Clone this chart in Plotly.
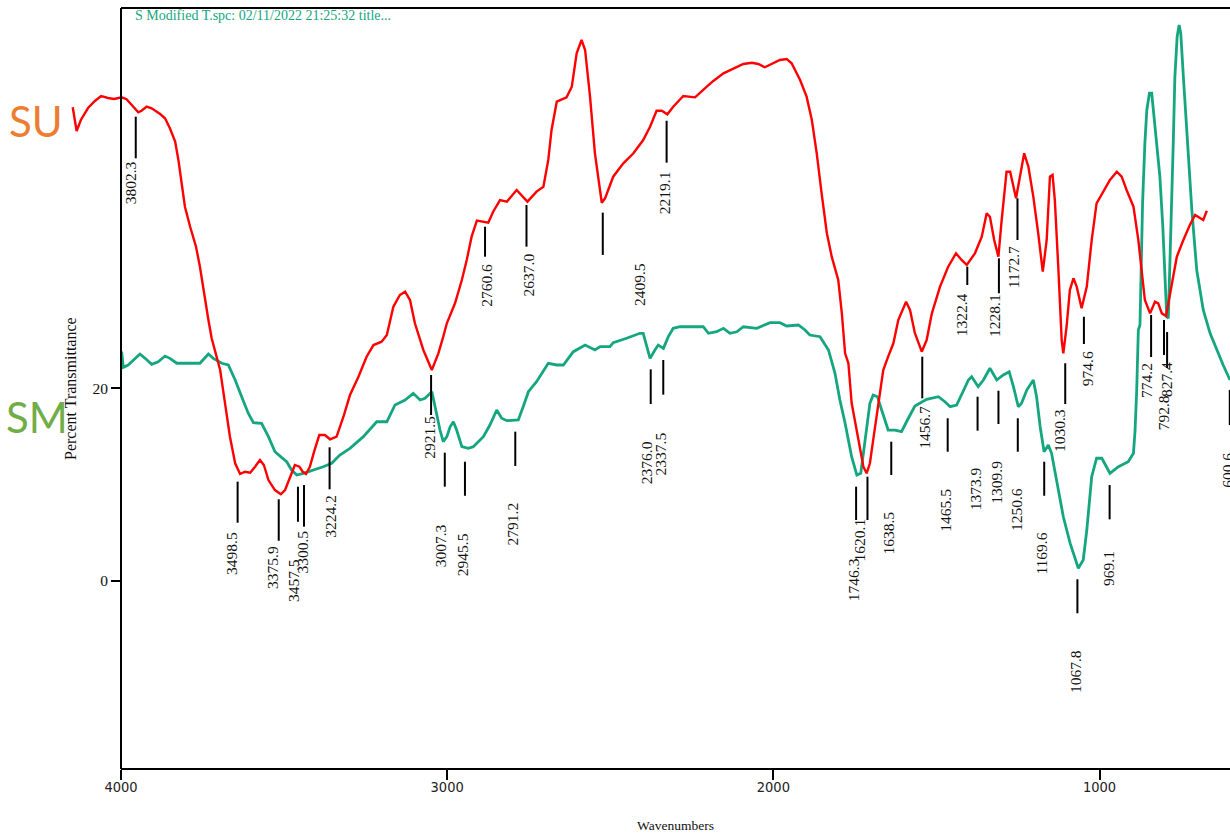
import plotly.graph_objects as go

# ---- SM spectrum (main wavenumber scale) ----
sm_wavenumber = [3998, 3993, 3978, 3962, 3942, 3926, 3906, 3886, 3865, 3850, 3829, 3758, 3732, 3717, 3691, 3671,
                 3650, 3630, 3610, 3594, 3569, 3548, 3528, 3507, 3492, 3477, 3461, 3441, 3410, 3380, 3354, 3329,
                 3298, 3257, 3216, 3185, 3160, 3129, 3104, 3083, 3068, 3047, 3037, 3022, 3012, 3001, 2991, 2981,
                 2971, 2955, 2935, 2920, 2889, 2869, 2848, 2833, 2817, 2782, 2767, 2751, 2726, 2690, 2664, 2644,
                 2613, 2577, 2547, 2531, 2501, 2491, 2450, 2409, 2399, 2378, 2363, 2353, 2337, 2322, 2307, 2286,
                 2215, 2199, 2174, 2153, 2133, 2112, 2092, 2051, 2010, 1980, 1959, 1923, 1903, 1888, 1857, 1831,
                 1811, 1796, 1780, 1760, 1744, 1732, 1724, 1714, 1704, 1694, 1681, 1668, 1648, 1627, 1607, 1589,
                 1566, 1530, 1494, 1474, 1458, 1438, 1423, 1402, 1392, 1372, 1356, 1336, 1315, 1295, 1277, 1264,
                 1249, 1239, 1223, 1203, 1193, 1182, 1170, 1157, 1147, 1131, 1111, 1090, 1065, 1050, 1039, 1024,
                 1009, 993, 968, 942, 912, 896, 891, 886, 881, 876, 868, 861, 855, 847, 840, 835, 825, 815, 806,
                 799, 794, 789, 782, 774, 769, 762, 756, 751, 743, 731, 717, 702, 682, 661, 641, 621, 600]
sm_transmittance = [23.80, 22.18, 22.42, 22.94, 23.56, 23.11, 22.49, 22.76, 23.35, 23.11, 22.60, 22.60, 23.56,
                    23.11, 22.60, 22.42, 20.86, 19.13, 17.41, 16.43, 16.37, 14.98, 13.42, 12.80, 12.38, 11.52,
                    11.00, 11.18, 11.52, 11.86, 12.22, 13.08, 13.77, 14.98, 16.53, 16.53, 18.27, 18.79, 19.48,
                    18.79, 18.96, 19.65, 18.09, 15.67, 14.46, 14.98, 16.01, 16.53, 15.67, 13.94, 13.77, 13.94,
                    14.98, 16.19, 17.75, 16.89, 16.64, 16.71, 18.09, 19.65, 20.69, 22.60, 22.42, 22.42, 23.80,
                    24.49, 23.98, 24.32, 24.32, 24.73, 25.19, 25.71, 25.71, 23.11, 23.98, 24.49, 24.15, 25.36,
                    26.23, 26.39, 26.39, 25.71, 25.87, 26.23, 25.71, 25.87, 26.39, 26.23, 26.81, 26.81, 26.47,
                    26.57, 26.05, 25.53, 25.36, 23.98, 21.56, 18.79, 16.37, 12.90, 11.00, 11.18, 13.25, 16.01,
                    18.44, 19.30, 19.13, 17.75, 15.67, 15.67, 15.50, 16.71, 18.16, 18.86, 19.13, 18.61, 18.09,
                    18.27, 19.30, 20.86, 21.20, 20.17, 20.86, 22.08, 20.86, 21.38, 21.72, 20.17, 18.09, 18.44,
                    19.82, 20.86, 19.13, 16.01, 13.42, 14.12, 13.25, 10.48, 6.67, 3.91, 1.32, 2.18, 5.29, 10.83,
                    12.74, 12.74, 11.18, 11.86, 12.38, 13.25, 15.67, 19.82, 26.05, 26.57, 39.20, 45.43, 48.89,
                    50.62, 50.62, 48.89, 45.43, 41.96, 36.77, 31.58, 27.43, 27.27, 35.05, 45.43, 52.34, 56.49,
                    57.71, 56.85, 52.34, 45.43, 38.51, 32.28, 28.13, 25.71, 23.98, 22.42, 20.86]

# ---- SU spectrum (own wavenumber calibration) ----
su_wavenumber = [3990.3, 3978.6, 3966.0, 3944.6, 3924.1, 3905.6, 3885.2, 3866.7, 3844.4, 3829.8,
                 3814.2, 3794.7, 3785.0, 3769.5, 3754.9, 3729.6, 3715.0, 3700.4, 3684.8, 3675.1,
                 3665.4, 3655.6, 3640.1, 3622.6, 3610.9, 3599.2, 3585.6, 3575.9, 3550.6, 3536.0,
                 3521.4, 3505.8, 3491.2, 3476.7, 3461.1, 3446.5, 3431.9, 3420.2, 3406.6, 3387.2,
                 3369.6, 3357.0, 3342.4, 3327.8, 3314.2, 3304.5, 3294.7, 3283.1, 3270.4, 3254.9,
                 3238.3, 3222.8, 3203.3, 3182.9, 3163.4, 3138.1, 3113.8, 3093.4, 3069.1, 3053.5,
                 3034.0, 3014.6, 2999.0, 2984.4, 2969.8, 2944.6, 2919.3, 2899.8, 2885.2, 2874.5,
                 2850.2, 2829.8, 2815.2, 2800.6, 2785.0, 2765.6, 2751.0, 2736.4, 2716.0, 2695.5,
                 2666.3, 2634.2, 2607.0, 2586.6, 2572.0, 2562.3, 2546.7, 2517.5, 2501.9, 2487.4,
                 2472.8, 2462.1, 2447.5, 2432.9, 2412.5, 2402.7, 2378.4, 2348.2, 2318.1, 2288.9,
                 2268.5, 2249.0, 2233.5, 2216.9, 2199.4, 2169.3, 2134.2, 2099.2, 2079.8, 2049.6,
                 2020.4, 1990.3, 1965.0, 1945.5, 1926.1, 1900.8, 1881.3, 1860.9, 1846.3, 1821.0,
                 1801.6, 1786.0, 1771.4, 1756.8, 1741.2, 1726.7, 1707.2, 1696.5, 1686.8, 1677.0,
                 1667.3, 1646.9, 1632.3, 1622.6, 1612.8, 1603.1, 1587.5, 1573.0, 1558.4, 1542.8,
                 1528.2, 1504.9, 1493.2, 1478.6, 1458.2, 1443.6, 1428.0, 1403.7, 1379.4, 1356.0,
                 1339.5, 1323.9, 1299.6, 1279.2, 1264.6, 1254.9, 1242.2, 1229.6, 1219.8, 1205.3,
                 1194.6, 1177.0, 1165.4, 1152.7, 1140.1, 1125.5, 1110.9, 1097.3, 1085.6, 1075.9,
                 1068.1, 1061.3, 1050.6, 1040.9, 1036.0, 1026.3, 1016.5, 1005.8, 996.1, 981.5,
                 966.0, 951.4, 936.8, 916.3, 896.9, 876.5, 861.9, 847.3, 826.8, 812.3,
                 802.5, 792.8, 777.2, 762.6, 752.9, 742.2, 729.6, 717.9, 697.5, 678.0,
                 658.6, 643.0, 628.4, 618.7, 608.0]
su_transmittance = [49.17, 46.70, 47.85, 49.09, 49.82, 50.34, 50.13, 50.03, 50.20, 50.00,
                    49.40, 48.65, 48.81, 49.23, 49.06, 48.47, 48.02, 46.99, 45.60, 43.70,
                    41.28, 38.85, 36.77, 34.70, 32.62, 29.86, 27.09, 25.19, 21.90, 18.44,
                    14.98, 12.22, 11.11, 11.34, 11.24, 11.86, 12.56, 12.04, 10.48, 9.44,
                    9.00, 9.44, 10.83, 12.04, 11.86, 11.34, 11.11, 11.86, 13.42, 15.15,
                    15.15, 14.71, 14.98, 17.05, 19.30, 21.20, 23.28, 24.49, 24.84, 25.53,
                    28.47, 29.68, 30.03, 29.16, 26.75, 23.98, 21.90, 23.63, 25.36, 26.75,
                    28.82, 31.24, 33.32, 35.74, 37.40, 37.29, 37.19, 38.33, 39.54, 39.37,
                    40.58, 39.37, 40.41, 40.92, 43.70, 46.81, 49.75, 50.20, 51.30, 54.77,
                    56.15, 55.11, 50.27, 44.39, 39.26, 39.72, 41.96, 43.35, 44.39, 45.77,
                    47.15, 48.81, 48.81, 48.44, 49.23, 50.34, 50.20, 51.30, 51.90, 52.69,
                    53.21, 53.66, 53.79, 53.66, 53.32, 53.73, 54.07, 54.18, 53.73, 52.00,
                    50.27, 47.85, 44.39, 40.24, 36.09, 33.66, 31.24, 27.78, 23.63, 22.60,
                    18.47, 14.63, 11.86, 11.18, 12.22, 14.63, 18.44, 21.90, 23.28, 24.67,
                    27.09, 28.99, 28.13, 25.71, 23.80, 25.01, 27.78, 30.55, 32.62, 34.01,
                    33.32, 32.80, 34.01, 35.74, 38.16, 37.81, 35.39, 33.66, 37.47, 42.48,
                    42.48, 39.72, 41.96, 44.39, 43.00, 39.89, 36.09, 32.10, 35.39, 41.96,
                    42.14, 39.54, 32.28, 25.01, 23.63, 26.39, 30.20, 31.42, 30.55, 28.30,
                    30.55, 35.39, 39.20, 40.41, 41.62, 42.48, 41.96, 40.58, 38.85, 35.39,
                    31.94, 29.16, 27.78, 28.99, 28.82, 27.78, 27.50, 29.86, 33.66, 35.39,
                    36.95, 37.99, 37.64, 37.47, 38.43]

# SU wavenumbers sit on the SM axis at SU_GAIN * wavenumber + SU_SHIFT
SU_GAIN = 1.028
SU_SHIFT = 46.0

# ---- peak picks ----
su_peak_labels = ["3802.3", "3498.5", "3375.9", "3300.5", "3224.2", "2921.5", "2760.6", "2637.0", "2409.5",
                  "2219.1", "1620.1", "1456.7", "1322.4", "1228.1", "1172.7", "1030.3", "974.6", "774.2", "827.4"]
su_peak_at = [3802.3, 3498.5, 3375.9, 3300.5, 3224.2, 2921.5, 2760.6, 2637.0, 2409.5,
              2219.1, 1620.1, 1456.7, 1322.4, 1228.1, 1172.7, 1030.3, 974.6, 774.2, 735.7]
su_tick_top = [48.19, 10.31, 8.48, 9.96, 13.88, 21.38, 36.77, 39.03, 38.23,
               47.77, 10.83, 23.28, 32.62, 33.49, 39.72, 22.60, 27.43, 27.61, 27.09]
su_tick_bottom = [43.87, 6.05, 4.18, 5.64, 9.52, 17.23, 33.66, 34.70, 33.84,
                  43.42, 6.33, 18.96, 30.72, 29.86, 35.39, 18.37, 24.60, 23.25, 23.46]
su_label_mid = [41.36, 2.87, 1.43, 2.96, 6.73, 14.87, 30.64, 31.76, 30.79,
                40.32, 4.26, 15.93, 27.61, 27.61, 32.62, 15.59, 22.08, 20.78, 20.86]
su_label_dx = [-5, -6, -6, -2, 1, -1, 2, 2, 37, -2, -8, 2, -5, -4, -4, -5, 3, -4, 2]

sm_peak_labels = ["3457.5", "3007.3", "2945.5", "2791.2", "2376.0", "2337.5", "1746.3", "1638.5", "1465.5",
                  "1373.9", "1309.9", "1250.6", "1169.6", "1067.8", "969.1", "792.8", "600.6"]
sm_peak_at = [3457.5, 3007.3, 2945.5, 2791.2, 2376.0, 2337.5, 1746.3, 1638.5, 1465.5,
              1373.9, 1309.9, 1250.6, 1169.6, 1067.8, 969.1, 792.8, 600.6]
sm_tick_top = [9.79, 13.32, 12.38, 15.50, 21.97, 22.94, 9.79, 14.46, 16.89,
               19.13, 19.75, 16.89, 12.38, 0.18, 9.96, 25.84, 19.82]
sm_tick_bottom = [6.15, 9.79, 8.85, 11.94, 18.37, 19.34, 6.33, 11.00, 13.42,
                  15.60, 16.29, 13.42, 8.85, -3.35, 6.40, 22.11, 16.19]
sm_label_mid = [0.10, 3.68, 2.78, 5.90, 12.30, 13.16, 0.10, 4.95, 7.37,
                9.57, 10.25, 7.45, 2.87, -9.41, 1.32, 17.41, 11.52]
sm_label_dx = [-5, -4, -3, -3, -4, -3, -3, -3, -3, -2, -2, -2, -3, -2, -1, -4, -3]

x_ticks = [4000, 3000, 2000, 1000]
y_ticks = [0, 20]

X_RANGE = [4187, 600]
Y_RANGE = [-19.51, 59.47]

W, H = 1230, 837
M_L, M_R, M_T, M_B = 60, 0, 8, 68

RED = "#ff0000"
TEAL = "#15a680"
SERIF = "Liberation Serif, Times New Roman, serif"
NARROW = "Liberation Sans Narrow, DejaVu Sans Condensed, Arial Narrow, Liberation Sans, sans-serif"
OFFICE = "Lato, Carlito, Calibri, Noto Sans, sans-serif"


def px_x(px):
    return (px - M_L) / (W - M_L - M_R)


def px_y(py):
    return (H - M_B - py) / (H - M_T - M_B)


axis_pos = (X_RANGE[0] - x_ticks[0]) / (X_RANGE[0] - X_RANGE[1])
su_range = [(X_RANGE[0] - SU_SHIFT) / SU_GAIN, (X_RANGE[1] - SU_SHIFT) / SU_GAIN]

fig = go.Figure()
fig.add_trace(go.Scatter(x=sm_wavenumber, y=sm_transmittance, mode="lines", name="SM",
                         line=dict(color=TEAL, width=2.8), xaxis="x", yaxis="y"))
fig.add_trace(go.Scatter(x=su_wavenumber, y=su_transmittance, mode="lines", name="SU",
                         line=dict(color=RED, width=2.4), xaxis="x2", yaxis="y"))

shapes = [
    dict(type="line", xref="x", yref="paper", x0=x_ticks[0], x1=X_RANGE[1], y0=1, y1=1,
         line=dict(color="black", width=2)),
    dict(type="line", xref="x", yref="paper", x0=x_ticks[0], x1=X_RANGE[1], y0=0, y1=0,
         line=dict(color="black", width=2)),
]
annotations = []


def add_peaks(labels, at, top, bottom, mid, dx, xref):
    for lab, x, y0, y1, ym, sh in zip(labels, at, top, bottom, mid, dx):
        shapes.append(dict(type="line", xref=xref, yref="y", x0=x, x1=x, y0=y0, y1=y1,
                           line=dict(color="black", width=2)))
        annotations.append(dict(text=lab, xref=xref, yref="y", x=x, y=ym, xshift=sh,
                                xanchor="center", yanchor="middle",
                                textangle=-90, showarrow=False,
                                font=dict(family=SERIF, size=15.5, color="#111111")))


add_peaks(su_peak_labels, su_peak_at, su_tick_top, su_tick_bottom, su_label_mid, su_label_dx, "x2")
add_peaks(sm_peak_labels, sm_peak_at, sm_tick_top, sm_tick_bottom, sm_label_mid, sm_label_dx, "x")


def paper_text(text, px, py, font, anchor="center", angle=0):
    return dict(text=text, xref="paper", yref="paper", x=px_x(px), y=px_y(py),
                xanchor=anchor, yanchor="middle", textangle=angle, showarrow=False, font=font)


annotations += [
    paper_text("S Modified T.spc: 02/11/2022 21:25:32 title...", 133, 16,
               dict(family=SERIF, size=14, color=TEAL), anchor="left"),
    paper_text("SU", 36, 121, dict(family=OFFICE, size=42, color="#ed7d31")),
    paper_text("SM", 37, 417, dict(family=OFFICE, size=42, color="#70ad47")),
    paper_text("Percent Transmittance", 70.5, 388.5, dict(family=SERIF, size=16, color="#111111"), angle=-90),
    paper_text("Wavenumbers", 675, 826, dict(family=SERIF, size=13.5, color="#111111")),
]

fig.update_layout(
    width=W, height=H, autosize=False,
    margin=dict(l=M_L, r=M_R, t=M_T, b=M_B, pad=0),
    paper_bgcolor="white", plot_bgcolor="white",
    showlegend=False,
    xaxis=dict(range=X_RANGE, tickvals=x_ticks, ticks="outside", ticklen=10, tickwidth=2,
               tickcolor="black", showline=False, showgrid=False, zeroline=False,
               ticklabelstandoff=-5,
               tickfont=dict(family=NARROW, size=14.5, color="#222222")),
    xaxis2=dict(range=su_range, overlaying="x", anchor="y", visible=False,
                showgrid=False, zeroline=False),
    yaxis=dict(range=Y_RANGE, anchor="free", position=axis_pos, tickvals=y_ticks,
               ticks="outside", ticklen=9, tickwidth=2, tickcolor="black",
               showline=True, linewidth=2, linecolor="black", showgrid=False, zeroline=False,
               tickfont=dict(family=SERIF, size=15.5, color="#111111")),
    shapes=shapes,
    annotations=annotations,
)

fig.write_html("out.html")
